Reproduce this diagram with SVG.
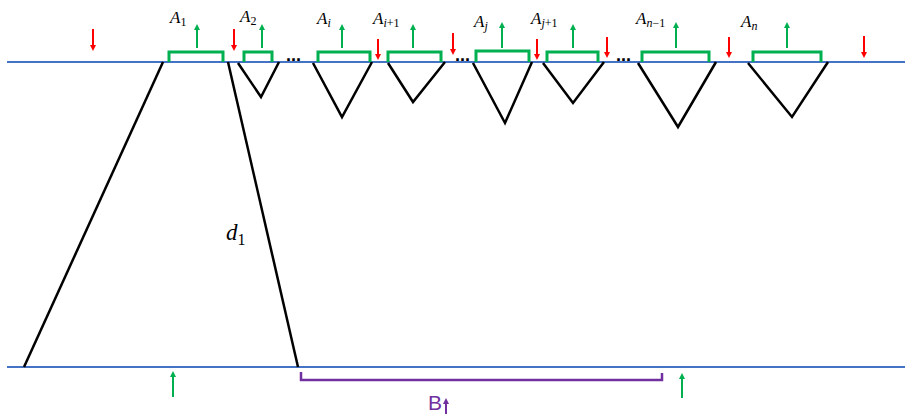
<svg xmlns="http://www.w3.org/2000/svg" width="905" height="414" viewBox="0 0 905 414">
<defs>
<marker id="hg" markerWidth="6" markerHeight="6" refX="3" refY="3" orient="auto" markerUnits="userSpaceOnUse"><path d="M0,0 L6,3 L0,6 z" fill="#00B050"/></marker>
<marker id="hr" markerWidth="6" markerHeight="6" refX="3" refY="3" orient="auto" markerUnits="userSpaceOnUse"><path d="M0,0 L6,3 L0,6 z" fill="#FF0000"/></marker>
<marker id="hp" markerWidth="6" markerHeight="6" refX="3" refY="3" orient="auto" markerUnits="userSpaceOnUse"><path d="M0,0 L6,3 L0,6 z" fill="#7030A0"/></marker>
</defs>
<style>
.base{stroke:#4472C4;stroke-width:2;fill:none}
.blk{stroke:#000;stroke-width:2.5;fill:none}
.br{stroke:#00B050;stroke-width:3;fill:none}
.ga{stroke:#00B050;stroke-width:2;marker-end:url(#hg)}
.ra{stroke:#FF0000;stroke-width:2;marker-end:url(#hr)}
.pa{stroke:#7030A0;stroke-width:2;marker-end:url(#hp)}
.lab{font-family:"Liberation Serif",serif;font-style:italic;font-size:17px;fill:#000}
.sub{font-size:12px}
.up{font-style:normal}
.dots{font-family:"Liberation Sans",sans-serif;font-weight:bold;font-size:18px;fill:#000}
</style>
<g id="baselines">
<line class="base" x1="7" y1="62" x2="905" y2="62"/>
<line class="base" x1="7" y1="367" x2="905" y2="367"/>
</g>
<g id="connectors">
<line class="blk" x1="163" y1="62" x2="24" y2="367"/>
<line class="blk" x1="228" y1="62" x2="298" y2="367"/>
</g>
<g id="triangles">
<polyline class="blk" points="238,63 261,97 279,62"/>
<polyline class="blk" points="313,63 342,117 372,62"/>
<polyline class="blk" points="388,63 413,102 445,62"/>
<polyline class="blk" points="473,63 505,123 532,62"/>
<polyline class="blk" points="543,63 573,103 604,62"/>
<polyline class="blk" points="638,63 678,127 716,62"/>
<polyline class="blk" points="748,63 792,117 828,62"/>
</g>
<g id="A1"><polyline class="br" points="169,62 169,52 223,52 223,62"/><line class="ga" x1="197" y1="48" x2="197" y2="27"/><text class="lab" x="170" y="23">A<tspan class="sub up" dy="3">1</tspan></text></g>
<g id="A2"><polyline class="br" points="244,62 244,52 272,52 272,62"/><line class="ga" x1="262" y1="48" x2="262" y2="27"/><text class="lab" x="240" y="22">A<tspan class="sub up" dy="3">2</tspan></text></g>
<g id="Ai"><polyline class="br" points="318,62 318,52 370,52 370,62"/><line class="ga" x1="342" y1="48" x2="342" y2="27"/><text class="lab" x="317" y="24">A<tspan class="sub" dy="3">i</tspan></text></g>
<g id="Ai1"><polyline class="br" points="388,62 388,52 441,52 441,62"/><line class="ga" x1="413" y1="48" x2="413" y2="27"/><text class="lab" x="373" y="24">A<tspan class="sub" dy="3">i<tspan class="up">+1</tspan></tspan></text></g>
<g id="Aj"><polyline class="br" points="476,62 476,51 529,51 529,62"/><line class="ga" x1="502" y1="48" x2="502" y2="25"/><text class="lab" x="474" y="27">A<tspan class="sub" dy="3">j</tspan></text></g>
<g id="Aj1"><polyline class="br" points="547,62 547,52 598,52 598,62"/><line class="ga" x1="573" y1="48" x2="573" y2="27"/><text class="lab" x="531" y="24">A<tspan class="sub" dy="3">j<tspan class="up">+1</tspan></tspan></text></g>
<g id="An1"><polyline class="br" points="642,62 642,52 709,52 709,62"/><line class="ga" x1="676" y1="48" x2="676" y2="25"/><text class="lab" x="636" y="24">A<tspan class="sub" dy="3">n<tspan class="up">−1</tspan></tspan></text></g>
<g id="An"><polyline class="br" points="753,62 753,52 821,52 821,62"/><line class="ga" x1="787" y1="48" x2="787" y2="25"/><text class="lab" x="741" y="27">A<tspan class="sub" dy="3">n</tspan></text></g>
<g id="red-arrows">
<line class="ra" x1="93" y1="29" x2="93" y2="48"/>
<line class="ra" x1="234" y1="29" x2="234" y2="48"/>
<line class="ra" x1="378" y1="39" x2="378" y2="57"/>
<line class="ra" x1="453" y1="33" x2="453" y2="52"/>
<line class="ra" x1="537" y1="39" x2="537" y2="57"/>
<line class="ra" x1="607" y1="37" x2="607" y2="55"/>
<line class="ra" x1="729" y1="37" x2="729" y2="55"/>
<line class="ra" x1="864" y1="36" x2="864" y2="55"/>
</g>
<g id="dots">
<text class="dots" x="286" y="61">...</text>
<text class="dots" x="455" y="61">...</text>
<text class="dots" x="616" y="61">...</text>
</g>
<g id="d1"><text class="lab" x="226" y="240" style="font-size:23px">d<tspan class="up" style="font-size:16px" dy="5">1</tspan></text></g>
<g id="bottom">
<line class="ga" x1="173" y1="397" x2="173" y2="374"/>
<line class="ga" x1="682" y1="398" x2="682" y2="376"/>
<polyline points="301,372 301,380 662,380 662,373" style="stroke:#7030A0;stroke-width:2.5;fill:none"/>
<text x="428" y="410" style="font-family:'Liberation Sans',sans-serif;font-size:21px;fill:#7030A0">B</text>
<line class="pa" x1="446" y1="414" x2="446" y2="401"/>
</g>
</svg>
